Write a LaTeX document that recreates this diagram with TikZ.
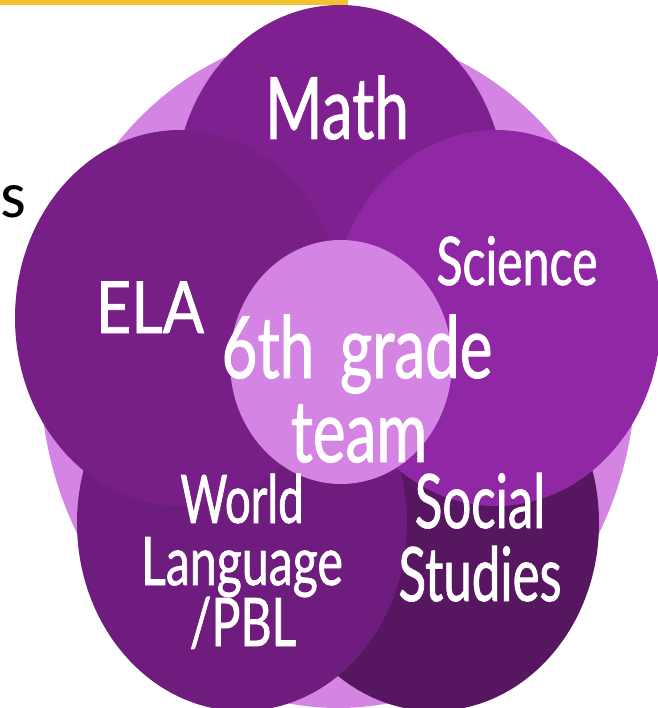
\documentclass[tikz,border=0pt]{standalone}
\usepackage{fontspec}
\setmainfont{Lato}
\newfontfamily\hand[FakeStretch=0.72,FakeBold=1]{Lato}
\newfontfamily\handnarrow[FakeStretch=0.68,FakeBold=1]{Lato}
\newfontfamily\handwide[FakeStretch=0.85,FakeBold=1]{Lato}
\newfontfamily\calib{Carlito}
\definecolor{lightp}{HTML}{D485E3}
\definecolor{mathc}{HTML}{7F2091}
\definecolor{elac}{HTML}{771F87}
\definecolor{scic}{HTML}{9027A5}
\definecolor{wlc}{HTML}{6E1C7D}
\definecolor{ssc}{HTML}{561660}
\definecolor{barc}{HTML}{F2C230}
\tikzset{
  lbl/.style={text=white, inner sep=0pt, anchor=base},
}
\begin{document}
\begin{tikzpicture}[x=1pt,y=-1pt]
\useasboundingbox (0,0) rectangle (657,708);
\fill[white] (0,0) rectangle (657,708);
\fill[barc] (0,0) rectangle (348,5);
% background
\fill[lightp] (338,370) ellipse [x radius=298, y radius=338];
% satellites
\fill[mathc] (340,193) ellipse [x radius=165, y radius=188];
\fill[ssc] (434,523) ellipse [x radius=165, y radius=188];
\fill[wlc] (242,523) ellipse [x radius=165, y radius=188];
\fill[elac] (180,318) ellipse [x radius=165, y radius=188];
\fill[scic] (496,318) ellipse [x radius=165, y radius=188];
% centre
\fill[lightp] (341,362) ellipse [x radius=111, y radius=122];
% labels
\node[lbl, font=\hand\fontsize{86}{86}\selectfont] (math) at (337,139) {Math};
\node[lbl, font=\hand\fontsize{67}{67}\selectfont] (sci) at (517,285) {Science};
\node[lbl, font=\handwide\fontsize{72}{72}\selectfont] (ela) at (150,333) {ELA};
\node[lbl, font=\hand\fontsize{86}{86}\selectfont] (six) at (357,378) {6th\hspace{0.3em}grade};
\node[lbl, font=\hand\fontsize{86}{86}\selectfont] (team) at (359,462) {team};
\node[lbl, font=\handnarrow\fontsize{67}{67}\selectfont] (wl1) at (242,523) {World};
\node[lbl, font=\hand\fontsize{67}{67}\selectfont] (wl2) at (242,585) {Language};
\node[lbl, font=\hand\fontsize{67}{67}\selectfont] (wl3) at (243,646) {/PBL};
\node[lbl, font=\handnarrow\fontsize{75}{75}\selectfont] (ss1) at (480,528) {Social};
\node[lbl, font=\handnarrow\fontsize{75}{75}\selectfont] (ss2) at (480,601) {Studies};
\node[inner sep=0pt, anchor=base west, font=\calib\fontsize{66}{66}\selectfont] (s) at (0,218) {s};
\end{tikzpicture}
\end{document}
